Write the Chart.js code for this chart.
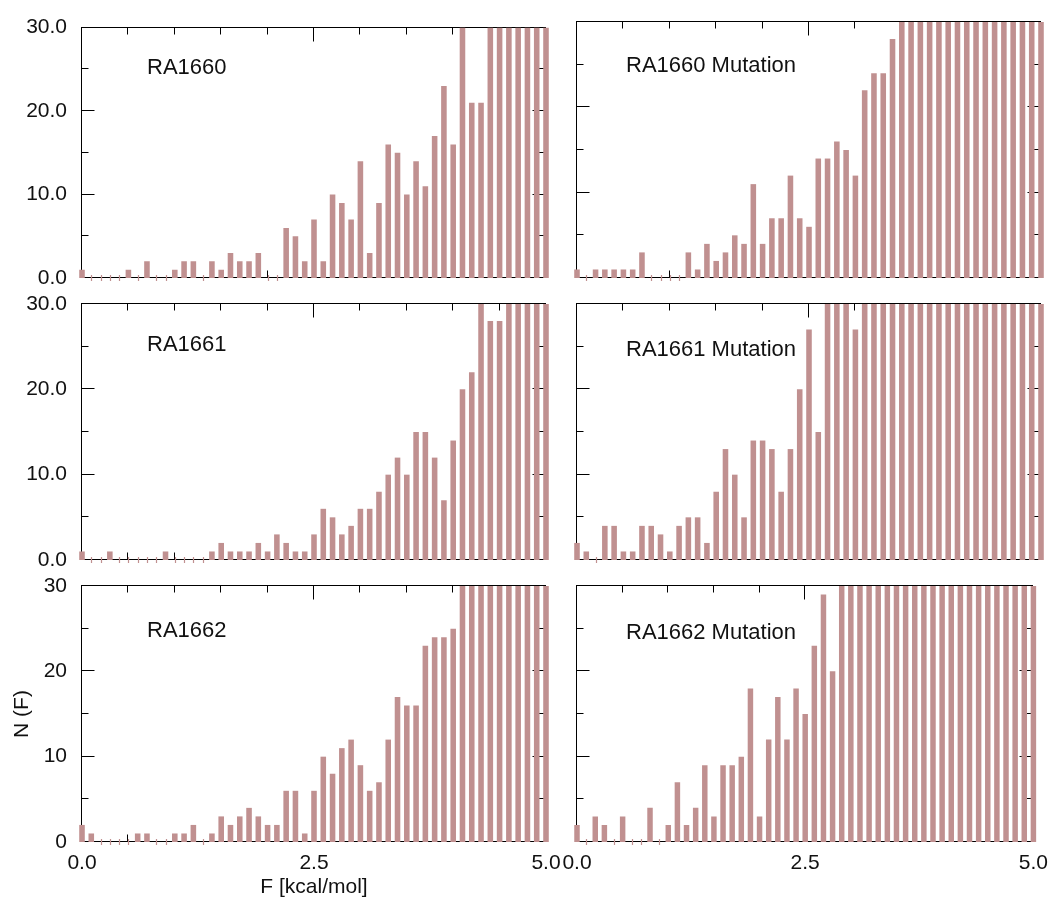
<!DOCTYPE html>
<html>
<head>
<meta charset="utf-8">
<script src="https://cdn.jsdelivr.net/npm/chart.js@4.4.1/dist/chart.umd.min.js"></script>
<style>
  html, body { margin: 0; padding: 0; background: #fff; }
  #wrap { position: relative; width: 1057px; height: 900px; overflow: hidden; }
  #wrap canvas { position: absolute; left: 0; top: 0; }
</style>
</head>
<body>
<div id="wrap"></div>
<script>
// Histogram bins, F in kcal/mol (bin centres)
const binCenters = [
  0.0, 0.1, 0.2, 0.3, 0.4, 0.5, 0.6, 0.7, 0.8, 0.9,
  1.0, 1.1, 1.2, 1.3, 1.4, 1.5, 1.6, 1.7, 1.8, 1.9,
  2.0, 2.1, 2.2, 2.3, 2.4, 2.5, 2.6, 2.7, 2.8, 2.9,
  3.0, 3.1, 3.2, 3.3, 3.4, 3.5, 3.6, 3.7, 3.8, 3.9,
  4.0, 4.1, 4.2, 4.3, 4.4, 4.5, 4.6, 4.7, 4.8, 4.9, 5.0
];

// Counts per bin (values at the 30 ceiling run off the top of the frame)
const ra1660 = [
  1, 0, 0, 0, 0, 1, 0, 2, 0, 0,
  1, 2, 2, 0, 2, 1, 3, 2, 2, 3,
  0, 0, 6, 5, 2, 7, 2, 10, 9, 7,
  14, 3, 9, 16, 15, 10, 14, 11, 17, 23,
  16, 30, 21, 21, 30, 30, 30, 30, 30, 30, 30
];
const ra1660Mut = [
  1, 0, 1, 1, 1, 1, 1, 3, 0, 0,
  0, 0, 3, 1, 4, 2, 3, 5, 4, 11,
  4, 7, 7, 12, 7, 6, 14, 14, 16, 15,
  12, 22, 24, 24, 28, 30, 30, 30, 30, 30,
  30, 30, 30, 30, 30, 30, 30, 30, 30, 30, 30
];
const ra1661 = [
  1, 0, 0, 1, 0, 0, 0, 0, 0, 1,
  0, 0, 0, 0, 1, 2, 1, 1, 1, 2,
  1, 3, 2, 1, 1, 3, 6, 5, 3, 4,
  6, 6, 8, 10, 12, 10, 15, 15, 12, 7,
  14, 20, 22, 30, 28, 28, 30, 30, 30, 30, 30
];
const ra1661Mut = [
  2, 1, 0, 4, 4, 1, 1, 4, 4, 3,
  1, 4, 5, 5, 2, 8, 13, 10, 5, 14,
  14, 13, 8, 13, 20, 27, 15, 30, 30, 30,
  27, 30, 30, 30, 30, 30, 30, 30, 30, 30,
  30, 30, 30, 30, 30, 30, 30, 30, 30, 30, 30
];
const ra1662 = [
  2, 1, 0, 0, 0, 0, 1, 1, 0, 0,
  1, 1, 2, 0, 1, 3, 2, 3, 4, 3,
  2, 2, 6, 6, 1, 6, 10, 8, 11, 12,
  9, 6, 7, 12, 17, 16, 16, 23, 24, 24,
  25, 30, 30, 30, 30, 30, 30, 30, 30, 30, 30
];
const ra1662Mut = [
  2, 0, 3, 2, 0, 3, 0, 0, 4, 0,
  2, 7, 2, 4, 9, 3, 9, 9, 10, 18,
  3, 12, 17, 12, 18, 15, 23, 29, 20, 30,
  30, 30, 30, 30, 30, 30, 30, 30, 30, 30,
  30, 30, 30, 30, 30, 30, 30, 30, 30, 30, 30
];

// Tick labels
const xTickLabels = ['0.0', '2.5', '5.0'];
const yTickLabelsDec = ['0.0', '10.0', '20.0', '30.0'];
const yTickLabelsInt = ['0', '10', '20', '30'];

const AXIS = '#000';
const BAR = '#c09090';
const FONT = "'Liberation Sans', Arial, Helvetica, sans-serif";

// Page grid: two columns x three rows of framed panels
const PAGE_W = 1057, PAGE_H = 900;
const colLeft = [82, 577];
const rowTop = [22, 304, 586];
const PLOT_W = 464, PLOT_H = 256;
const Y_W = 80;

const panels = [
  { title: 'RA1660',          values: ra1660,    row: 0, col: 0, tx: 65, ty: 46 },
  { title: 'RA1660 Mutation', values: ra1660Mut, row: 0, col: 1, tx: 49, ty: 50 },
  { title: 'RA1661',          values: ra1661,    row: 1, col: 0, tx: 65, ty: 47 },
  { title: 'RA1661 Mutation', values: ra1661Mut, row: 1, col: 1, tx: 49, ty: 52 },
  { title: 'RA1662',          values: ra1662,    row: 2, col: 0, tx: 65, ty: 51 },
  { title: 'RA1662 Mutation', values: ra1662Mut, row: 2, col: 1, tx: 49, ty: 53 },
];

const crisp = v => Math.round(v) - 0.5;

// Box around the plot area with inward ticks on all four sides
const framePlugin = {
  id: 'frame',
  beforeDatasetsDraw(chart) {
    const { ctx, chartArea: a, scales: { x, y } } = chart;
    const L = crisp(a.left), R = crisp(a.right), T = crisp(a.top), B = crisp(a.bottom);
    ctx.save();
    ctx.strokeStyle = AXIS;
    ctx.lineWidth = 1;
    ctx.lineCap = 'square';

    ctx.beginPath();
    ctx.moveTo(L, T); ctx.lineTo(R, T);
    ctx.moveTo(R, T); ctx.lineTo(R, B);
    ctx.moveTo(L, B); ctx.lineTo(R, B);
    ctx.moveTo(L, T); ctx.lineTo(L, B);
    ctx.stroke();

    ctx.lineCap = 'butt';
    ctx.beginPath();
    for (let v = 0; v <= 5.0001; v += 0.5) {
      const major = Math.abs(v - Math.round(v / 2.5) * 2.5) < 1e-6;
      const len = major ? 14 : 7;
      const px = crisp(x.getPixelForValue(v));
      ctx.moveTo(px, T); ctx.lineTo(px, T + len);
      ctx.moveTo(px, B); ctx.lineTo(px, B - len);
    }
    for (let v = 0; v <= 30; v += 5) {
      const len = v % 10 === 0 ? 13 : 7;
      const py = crisp(y.getPixelForValue(v));
      ctx.moveTo(L, py); ctx.lineTo(L + len, py);
      ctx.moveTo(R, py); ctx.lineTo(R - len, py);
    }
    ctx.stroke();

    // empty bins get a short stub across the baseline
    const y0 = y.getPixelForValue(0);
    ctx.strokeStyle = BAR;
    ctx.lineWidth = 1.2;
    ctx.beginPath();
    chart.data.datasets[0].data.forEach(p => {
      if (p.y !== 0) return;
      const px = Math.round(x.getPixelForValue(p.x)) + 0.5;
      ctx.moveTo(px, y0 - 3); ctx.lineTo(px, y0 + 3);
    });
    ctx.stroke();
    ctx.restore();
  }
};

// Panel caption inside the frame
const captionPlugin = {
  id: 'caption',
  afterDatasetsDraw(chart, args, opts) {
    const { ctx, chartArea: a } = chart;
    ctx.save();
    ctx.font = '22px ' + FONT;
    ctx.fillStyle = '#111';
    ctx.textAlign = 'left';
    ctx.textBaseline = 'alphabetic';
    ctx.fillText(opts.text, a.left + opts.dx, a.top + opts.dy);
    ctx.restore();
  }
};

const wrap = document.getElementById('wrap');

panels.forEach(p => {
  const canvas = document.createElement('canvas');
  canvas.width = PAGE_W;
  canvas.height = PAGE_H;
  wrap.appendChild(canvas);

  const showY = p.col === 0;
  const showX = p.row === 2;
  const xH = showX ? PAGE_H - (rowTop[p.row] + PLOT_H) : 10;
  const yLabels = p.row === 2 ? yTickLabelsInt : yTickLabelsDec;

  new Chart(canvas, {
    type: 'bar',
    data: {
      datasets: [{
        data: binCenters.map((c, i) => ({ x: c, y: p.values[i] })),
        backgroundColor: BAR,
        borderWidth: 0,
        barPercentage: 0.6,
        categoryPercentage: 1.0,
        clip: { left: 8, right: 8, top: 0, bottom: 0 },
      }],
    },
    options: {
      responsive: false,
      animation: false,
      events: [],
      layout: {
        padding: {
          left: colLeft[p.col] - Y_W,
          right: PAGE_W - colLeft[p.col] - PLOT_W,
          top: rowTop[p.row],
          bottom: PAGE_H - rowTop[p.row] - PLOT_H - xH,
        },
      },
      scales: {
        x: {
          type: 'linear',
          min: 0, max: 5,
          offset: false,
          grid: { display: false, drawTicks: false, offset: false },
          border: { display: false },
          ticks: {
            display: showX,
            stepSize: 2.5,
            padding: 9,
            color: '#111',
            font: { family: FONT, size: 21 },
            maxRotation: 0,
            callback: (v, i) => xTickLabels[i],
          },
          title: {
            display: showX && showY,
            text: 'F [kcal/mol]',
            color: '#111',
            font: { family: FONT, size: 21 },
            padding: { top: 0, bottom: 0 },
          },
          afterFit: s => { s.height = xH; },
        },
        y: {
          min: 0, max: 30,
          grid: { display: false, drawTicks: false },
          border: { display: false },
          ticks: {
            display: showY,
            stepSize: 10,
            padding: 15,
            color: '#111',
            font: { family: FONT, size: 21 },
            callback: (v, i) => yLabels[i],
          },
          title: {
            display: showY && p.row === 2,
            text: 'N (F)',
            color: '#111',
            font: { family: FONT, size: 21 },
            padding: { top: 8, bottom: 0 },
          },
          afterFit: s => { s.width = Y_W; },
        },
      },
      plugins: {
        legend: { display: false },
        tooltip: { enabled: false },
        caption: { text: p.title, dx: p.tx, dy: p.ty },
      },
    },
    plugins: [framePlugin, captionPlugin],
  });
});
</script>
</body>
</html>
